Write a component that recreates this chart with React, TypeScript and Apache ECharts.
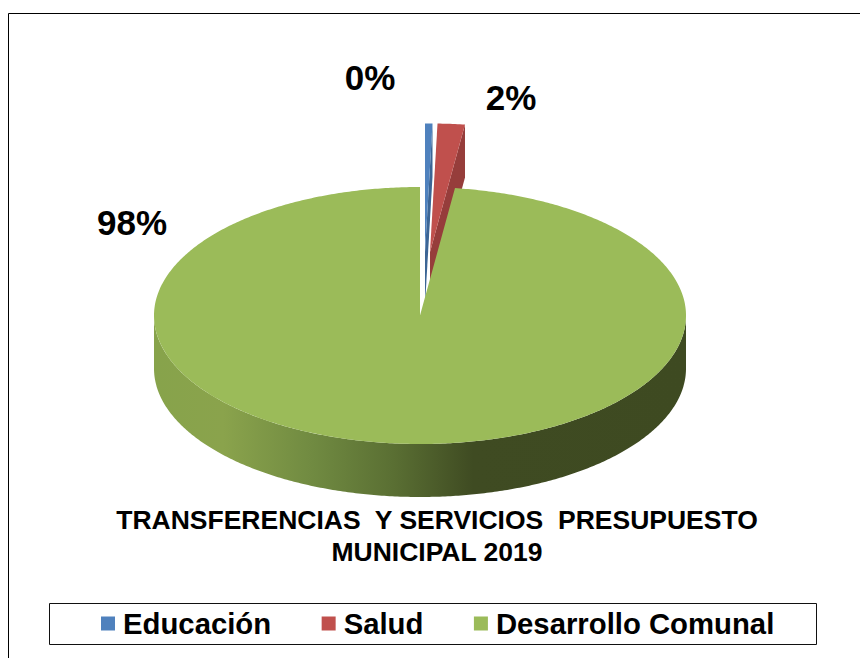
import React, { useEffect, useRef } from "react";
import * as echarts from "echarts";

const categories = ["Educación", "Salud", "Desarrollo Comunal"];
const values = [0.45, 1.65, 97.9];
const titleLines = ["TRANSFERENCIAS  Y SERVICIOS  PRESUPUESTO", "MUNICIPAL 2019"];

const topColors = ["#4f81bd", "#c0504d", "#9bbb59"];
const cutColors = ["#3c6595", "#963d3b", "#7d9747"];
const explodeOffsets = [[5, -63.5], [10, -63.5], [0, 0]];
const labelPositions = [[370, 77], [511, 97], [132, 222]];

const CX = 420;
const CY = 315.5;
const RX = 266;
const RY = 128.5;
const DEPTH = 53;

const total = values.reduce((a, b) => a + b, 0);
const startAngle = (i: number) =>
  (values.slice(0, i).reduce((a, b) => a + b, 0) / total) * Math.PI * 2;

function rimPoint(theta: number, ox: number, oy: number): number[] {
  return [CX + ox + RX * Math.sin(theta), CY + oy - RY * Math.cos(theta)];
}

function arcPoints(a0: number, a1: number, ox: number, oy: number): number[][] {
  const n = Math.max(2, Math.ceil(Math.abs(a1 - a0) / 0.01));
  const pts: number[][] = [];
  for (let k = 0; k <= n; k++) pts.push(rimPoint(a0 + ((a1 - a0) * k) / n, ox, oy));
  return pts;
}

function sliceRenderer(index: number) {
  return (_params: any, api: any) => {
    const v = api.value(0) as number;
    const a0 = startAngle(index);
    const a1 = a0 + (v / total) * Math.PI * 2;
    const [ox, oy] = explodeOffsets[index];
    const apex = [CX + ox, CY + oy];
    const children: any[] = [];

    // front wall, only where the rim faces the viewer
    const f0 = Math.max(a0, Math.PI / 2);
    const f1 = Math.min(a1, (Math.PI * 3) / 2);
    if (f1 > f0) {
      const upper = arcPoints(f0, f1, ox, oy);
      const lower = arcPoints(f1, f0, ox, oy + DEPTH);
      children.push({
        type: "polygon",
        shape: { points: upper.concat(lower) },
        style: {
          fill: {
            type: "linear",
            x: 0,
            y: 0,
            x2: 1,
            y2: 0,
            colorStops: [
              { offset: 0, color: "#87a34b" },
              { offset: 0.13, color: "#8aa34c" },
              { offset: 0.3, color: "#708a41" },
              { offset: 0.45, color: "#5a6f33" },
              { offset: 0.6, color: "#3f4b22" },
              { offset: 1, color: "#3e4a21" },
            ],
          },
        },
      });
    }

    // cut face on the leading edge, for the pulled-out slices
    if (index < 2) {
      const e = rimPoint(a1, ox, oy);
      children.push({
        type: "polygon",
        shape: {
          points: [apex, e, [e[0], e[1] + DEPTH], [apex[0], apex[1] + DEPTH]],
        },
        style: { fill: cutColors[index] },
      });
    }

    // top face
    children.push({
      type: "polygon",
      shape: { points: [apex].concat(arcPoints(a0, a1, ox, oy)) },
      style: { fill: topColors[index] },
    });

    // percentage label
    const [lx, ly] = labelPositions[index];
    children.push({
      type: "text",
      z2: 100,
      style: {
        x: lx,
        y: ly,
        text: Math.round((v / total) * 100) + "%",
        fill: "#000",
        font: 'bold 35px "Liberation Sans", Arial, sans-serif',
        align: "center",
        verticalAlign: "middle",
      },
    });
    return { type: "group", children };
  };
}

export default function App() {
  const ref = useRef<HTMLDivElement>(null);
  useEffect(() => {
    document.body.style.margin = "0";
    const chart = echarts.init(ref.current!, undefined, { renderer: "svg" });
    chart.setOption({
      animation: false,
      backgroundColor: "#fff",
      tooltip: { show: false },
      title: {
        text: titleLines.join("\n"),
        left: 432,
        top: 499,
        textAlign: "center",
        textStyle: {
          fontFamily: '"Liberation Sans", Arial, sans-serif',
          fontWeight: "bold",
          fontSize: 26.5,
          lineHeight: 32,
          color: "#000",
        },
      },
      legend: {
        left: 101,
        top: 609,
        padding: 0,
        icon: "rect",
        itemWidth: 14,
        itemHeight: 14,
        itemGap: 50.5,
        selectedMode: false,
        data: categories,
        textStyle: {
          fontFamily: '"Liberation Sans", Arial, sans-serif',
          fontWeight: "bold",
          fontSize: 29.3,
          color: "#000",
          padding: [0, 0, 0, 3],
        },
      },
      graphic: [
        {
          type: "polyline",
          silent: true,
          shape: { points: [[8.5, 660], [8.5, 13.5], [862, 13.5]] },
          style: { stroke: "#000", lineWidth: 1, fill: null },
        },
        {
          type: "rect",
          silent: true,
          shape: { x: 49.5, y: 603.5, width: 767, height: 41 },
          style: { stroke: "#111", lineWidth: 1, fill: "transparent" },
        },
      ],
      series: categories.map((name, i) => ({
        type: "custom",
        name,
        coordinateSystem: "none",
        silent: true,
        z: i + 2,
        itemStyle: { color: topColors[i] },
        data: [[values[i]]],
        renderItem: sliceRenderer(i),
      })),
    });
    return () => chart.dispose();
  }, []);
  return <div ref={ref} style={{ width: 860, height: 658 }} />;
}
